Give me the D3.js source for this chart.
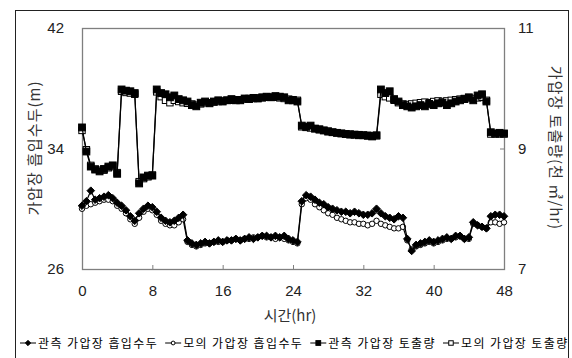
<!DOCTYPE html>
<html>
<head>
<meta charset="utf-8">
<script src="https://cdn.jsdelivr.net/npm/d3@7"></script>
<style>
  body { margin: 0; background: #fff; }
  text { font-family: "Liberation Sans", Arial, sans-serif; }
  .kr { font-family: "Noto Sans CJK KR", "Liberation Sans", sans-serif; }
</style>
</head>
<body>
<div id="chart"></div>
<script>
// hours, every half hour from 0 to 48
const hours = d3.range(0, 48.01, 0.5);

// observed suction head (m), left axis
const headObs = [
  30.2, 30.5, 31.2, 30.6, 30.7, 30.8, 30.9, 30.7, 30.4, 30.2,
  29.9, 29.5, 29.2, 29.7, 30.0, 30.2, 30.1, 29.8, 29.4, 29.2,
  29.1, 29.2, 29.4, 29.6, 27.9, 27.7, 27.6, 27.7, 27.8, 27.7,
  27.8, 27.9, 27.8, 27.9, 27.9, 28.0, 27.9, 28.0, 28.1, 28.0,
  28.1, 28.2, 28.2, 28.1, 28.2, 28.1, 28.2, 28.0, 27.9, 27.8,
  30.5, 30.9, 30.8, 30.6, 30.4, 30.3, 30.1, 30.0, 29.9, 29.8,
  29.8, 29.7, 29.8, 29.7, 29.6, 29.6, 29.7, 30.0, 29.7, 29.5,
  29.4, 29.3, 29.5, 29.4, 28.0, 27.2, 27.6, 27.7, 27.8, 27.9,
  27.8, 27.9, 28.0, 28.1, 28.0, 28.2, 28.2, 28.0, 28.1, 29.1,
  28.9, 28.8, 28.7, 29.5, 29.6, 29.6, 29.5
];

// simulated suction head (m), left axis
const headSim = [
  30.0, 30.2, 30.3, 30.4, 30.5, 30.6, 30.6, 30.5, 30.2, 30.0,
  29.7, 29.3, 29.0, 29.4, 29.8, 30.0, 29.9, 29.6, 29.2, 29.0,
  28.9, 28.9, 29.1, 29.3, 27.8, 27.6, 27.5, 27.6, 27.7, 27.7,
  27.8, 27.8, 27.8, 27.9, 27.9, 28.0, 27.9, 28.0, 28.0, 28.1,
  28.1, 28.2, 28.1, 28.1, 28.0, 28.1, 28.0, 27.9, 27.8, 27.7,
  30.3, 30.7, 30.6, 30.3, 30.1, 29.9, 29.7, 29.6, 29.4, 29.3,
  29.2, 29.1, 29.1, 29.0, 29.0, 28.9, 29.0, 29.2, 29.0, 28.9,
  28.8, 28.7, 28.7, 28.8, 27.9, 27.3, 27.5, 27.6, 27.7, 27.8,
  27.7, 27.8, 27.9, 28.0, 28.0, 28.1, 28.2, 28.0, 28.0, 29.0,
  28.9, 28.8, 28.7, 29.1, 29.1, 29.0, 29.1
];

// observed discharge (thousand m3/hr), right axis
const flowObs = [
  9.35, 8.95, 8.70, 8.65, 8.62, 8.66, 8.70, 8.72, 8.58, 9.98,
  9.96, 9.95, 9.92, 8.42, 8.52, 8.55, 8.55, 9.98, 9.92, 9.90,
  9.85, 9.88, 9.82, 9.80, 9.78, 9.72, 9.70, 9.76, 9.78, 9.75,
  9.78, 9.80, 9.78, 9.80, 9.82, 9.80, 9.80, 9.83, 9.82, 9.84,
  9.83, 9.85, 9.86, 9.85, 9.87, 9.86, 9.85, 9.80, 9.80, 9.78,
  9.38, 9.36, 9.38, 9.33, 9.32, 9.30, 9.28, 9.27, 9.26, 9.25,
  9.24, 9.23, 9.23, 9.22, 9.22, 9.21, 9.20, 9.22, 9.98, 9.92,
  9.95, 9.82, 9.78, 9.72, 9.70, 9.68, 9.70, 9.72, 9.70, 9.74,
  9.72, 9.75, 9.76, 9.72, 9.75, 9.78, 9.80, 9.82, 9.85, 9.80,
  9.88, 9.90, 9.78, 9.27, 9.25, 9.26, 9.25
];

// simulated discharge (thousand m3/hr), right axis
const flowSim = [
  9.30, 8.98, 8.72, 8.66, 8.64, 8.64, 8.68, 8.70, 8.60, 9.95,
  9.93, 9.92, 9.90, 8.45, 8.50, 8.53, 8.56, 9.94, 9.86, 9.80,
  9.76, 9.80, 9.78, 9.76, 9.75, 9.74, 9.72, 9.74, 9.76, 9.76,
  9.77, 9.78, 9.79, 9.80, 9.80, 9.81, 9.81, 9.82, 9.83, 9.83,
  9.84, 9.84, 9.85, 9.85, 9.85, 9.84, 9.83, 9.82, 9.81, 9.80,
  9.36, 9.35, 9.34, 9.33, 9.31, 9.30, 9.29, 9.27, 9.26, 9.25,
  9.24, 9.24, 9.23, 9.23, 9.22, 9.22, 9.21, 9.21, 9.90, 9.86,
  9.84, 9.80, 9.76, 9.74, 9.73, 9.74, 9.75, 9.76, 9.77, 9.76,
  9.78, 9.79, 9.78, 9.79, 9.80, 9.81, 9.82, 9.83, 9.84, 9.83,
  9.84, 9.85, 9.80, 9.24, 9.24, 9.24, 9.24
];

const xTicks = [0, 8, 16, 24, 32, 40, 48];
const leftTicks = [26, 34, 42];
const rightTicks = [7, 9, 11];

const legendLabels = ["관측 가압장 흡입수두", "모의 가압장 흡입수두", "관측 가압장 토출량", "모의 가압장 토출량"];

const W = 572, H = 358;
const plot = { left: 82, top: 28, right: 504, bottom: 269 };

const svg = d3.select("#chart").append("svg")
  .attr("width", W).attr("height", H);

// outer chart frame
svg.append("rect")
  .attr("x", 15.5).attr("y", 10.5)
  .attr("width", 553).attr("height", 360)
  .attr("fill", "none").attr("stroke", "#222").attr("stroke-width", 1);

const x = d3.scaleLinear().domain([0, 48]).range([plot.left, plot.right]);
const yL = d3.scaleLinear().domain([26, 42]).range([plot.bottom, plot.top]);
const yR = d3.scaleLinear().domain([7, 11]).range([plot.bottom, plot.top]);

// plot area frame
svg.append("rect")
  .attr("x", plot.left + 0.5).attr("y", plot.top + 0.5)
  .attr("width", plot.right - plot.left).attr("height", plot.bottom - plot.top)
  .attr("fill", "none").attr("stroke", "#7f7f7f").attr("stroke-width", 1.3);

// axes: ticks inward, labels drawn by the axis generators
const axisStyle = g => {
  g.select(".domain").remove();
  g.selectAll(".tick line").attr("stroke", "#7f7f7f");
  g.selectAll(".tick text").attr("fill", "#222").attr("font-size", "15px");
};

svg.append("g")
  .attr("transform", `translate(0,${plot.bottom})`)
  .call(d3.axisBottom(x).tickValues(xTicks).tickSizeInner(-4).tickSizeOuter(0).tickPadding(16))
  .call(axisStyle);

svg.append("g")
  .attr("transform", `translate(${plot.left},0)`)
  .call(d3.axisLeft(yL).tickValues(leftTicks).tickSizeInner(-4).tickSizeOuter(0).tickPadding(18))
  .call(axisStyle);

svg.append("g")
  .attr("transform", `translate(${plot.right},0)`)
  .call(d3.axisRight(yR).tickValues(rightTicks).tickFormat(d3.format("d"))
    .tickSizeInner(-4).tickSizeOuter(0).tickPadding(14))
  .call(axisStyle);

// axis titles
svg.append("text")
  .attr("class", "kr")
  .attr("transform", `translate(40,148) rotate(-90)`)
  .attr("text-anchor", "middle")
  .attr("font-size", "15px").attr("letter-spacing", "1px").attr("fill", "#333")
  .text("가압장 흡입수두(m)");

svg.append("text")
  .attr("class", "kr")
  .attr("transform", `translate(550,148) rotate(90)`)
  .attr("text-anchor", "middle")
  .attr("font-size", "15px").attr("letter-spacing", "1px").attr("fill", "#333")
  .text("가압장 토출량(천 ㎥/hr)");

svg.append("text")
  .attr("class", "kr")
  .attr("x", 290).attr("y", 321)
  .attr("text-anchor", "middle")
  .attr("font-size", "15px").attr("fill", "#333")
  .text("시간(hr)");

// series
const series = [
  { values: headSim, y: yL, shape: "circle", filled: false, size: 3.4 },
  { values: headObs, y: yL, shape: "diamond", filled: true, size: 3.8 },
  { values: flowSim, y: yR, shape: "square", filled: false, size: 3.2 },
  { values: flowObs, y: yR, shape: "square", filled: true, size: 3.4 }
];

function marker(g, shape, filled, s, cx, cy) {
  const fill = filled ? "#000" : "#fff";
  if (shape === "circle") {
    g.append("circle").attr("cx", cx).attr("cy", cy).attr("r", s * 0.8)
      .attr("fill", fill).attr("stroke", "#000").attr("stroke-width", 1);
  } else if (shape === "diamond") {
    g.append("path")
      .attr("d", `M${cx},${cy - s}L${cx + s},${cy}L${cx},${cy + s}L${cx - s},${cy}Z`)
      .attr("fill", fill).attr("stroke", "#000").attr("stroke-width", 1);
  } else {
    g.append("rect").attr("x", cx - s).attr("y", cy - s)
      .attr("width", 2 * s).attr("height", 2 * s)
      .attr("fill", fill).attr("stroke", "#000").attr("stroke-width", 1);
  }
}

series.forEach(s => {
  const pts = hours.map((h, i) => [x(h), s.y(s.values[i])]);
  const g = svg.append("g");
  g.append("path")
    .attr("d", d3.line()(pts))
    .attr("fill", "none").attr("stroke", "#000").attr("stroke-width", 1.2);
  pts.forEach(p => marker(g, s.shape, s.filled, s.size, p[0], p[1]));
});

// legend
const legend = svg.append("g").attr("transform", "translate(20,343)");
let lx = 0;
const legendSeries = [series[1], series[0], series[3], series[2]];
legendSeries.forEach((s, i) => {
  const g = legend.append("g").attr("transform", `translate(${lx},0)`);
  g.append("line").attr("x1", 0).attr("x2", 16).attr("y1", 0).attr("y2", 0)
    .attr("stroke", "#000").attr("stroke-width", 1);
  marker(g, s.shape, s.filled, s.size * 0.7, 8, 0);
  const t = g.append("text").attr("class", "kr")
    .attr("x", 18).attr("y", 4.5)
    .attr("font-size", "12px").attr("letter-spacing", "1.4px").attr("fill", "#000")
    .text(legendLabels[i]);
  lx += 18 + t.node().getComputedTextLength() + 7;
});
</script>
</body>
</html>
